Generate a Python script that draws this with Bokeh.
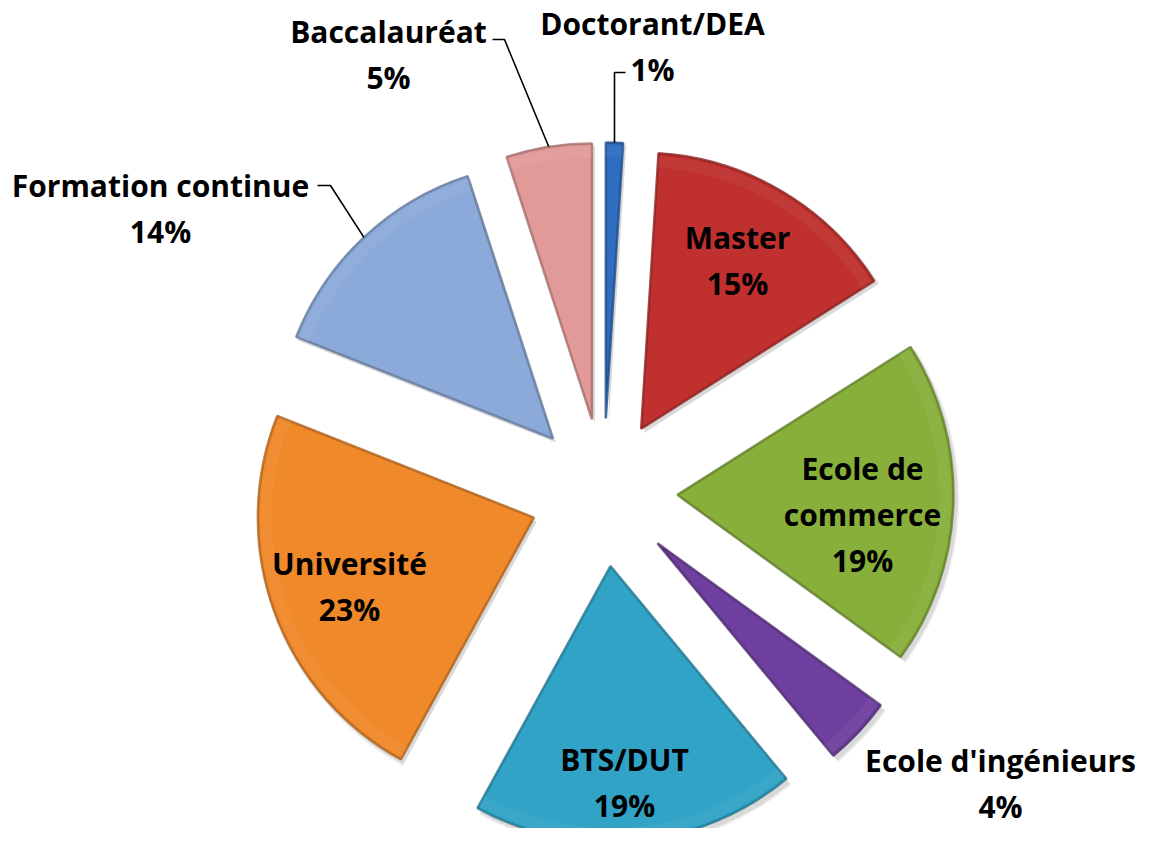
import math
from bokeh.plotting import figure
from bokeh.models import Range1d, ColumnDataSource
from bokeh.core.properties import value
from bokeh.embed import file_html
from bokeh.resources import INLINE

# ---- data ----
categories = ["Doctorant/DEA", "Master", "Ecole de commerce", "Ecole d'ingénieurs",
              "BTS/DUT", "Université", "Formation continue", "Baccalauréat"]
label_names = ["Doctorant/DEA", "Master", "Ecole de\ncommerce", "Ecole d'ingénieurs",
               "BTS/DUT", "Université", "Formation continue", "Baccalauréat"]
values = [1, 15, 19, 4, 19, 23, 14, 5]
colors = ["#2E6DBF", "#C0302E", "#89AF3B", "#6E3F9E",
          "#31A3C6", "#F0892A", "#8BA9D9", "#E29A98"]

# ---- layout (screen-pixel-like data units, y up) ----
W, H = 1139, 828
CX, CY = 611, 844 - 500
R = 276
EXPLODE = 74
LINE_GAP = 46
# label block centres (screen coords) ; outside labels get leader lines
label_pos = [(660, 48), (745, 262), (870, 516), (1008, 785),
             (632, 784), (357, 588), (168, 210), (396, 56)]
leaders = {0: [(633, 80), (622, 80)], 7: [(500, 47), (512, 47)], 6: [(325, 193), (338, 193)]}


def darker(hexc, f):
    h = hexc.lstrip("#")
    r, g, b = (int(h[i:i + 2], 16) for i in (0, 2, 4))
    return "#%02x%02x%02x" % (int(r * f), int(g * f), int(b * f))


def lighter(hexc, f):
    h = hexc.lstrip("#")
    r, g, b = (int(h[i:i + 2], 16) for i in (0, 2, 4))
    return "#%02x%02x%02x" % tuple(int(c + (255 - c) * f) for c in (r, g, b))


total = float(sum(values))
starts, ends, xs, ys, mids = [], [], [], [], []
acc = 0.0
for v in values:
    t1 = acc / total * 360.0
    acc += v
    t2 = acc / total * 360.0
    mid = math.radians((t1 + t2) / 2)
    mids.append(mid)
    xs.append(CX + EXPLODE * math.sin(mid))
    ys.append(CY + EXPLODE * math.cos(mid))
    starts.append(math.radians(90 - t2))
    ends.append(math.radians(90 - t1))

src = ColumnDataSource(dict(x=xs, y=ys, start=starts, end=ends, color=colors,
                            edge=[darker(c, 0.72) for c in colors],
                            light=[lighter(c, 0.25) for c in colors],
                            sx=[x + 3 for x in xs], sy=[y - 4 for y in ys]))

p = figure(width=W, height=H, output_backend="svg", toolbar_location=None,
           x_range=Range1d(8, 8 + W), y_range=Range1d(844 - 8 - H, 844 - 8),
           min_border=0, outline_line_color=None, background_fill_color="white")
p.axis.visible = False
p.grid.visible = False

# soft shadow
for k, a in [(6, 0.06), (4, 0.08), (2, 0.10)]:
    p.wedge(x="sx", y="sy", radius=R + k * 0.5, start_angle="start", end_angle="end",
            source=src, fill_color="#555555", fill_alpha=a, line_color=None)
# slices
p.wedge(x="x", y="y", radius=R, start_angle="start", end_angle="end", source=src,
        fill_color="color", line_color="edge", line_width=2.5, line_alpha=0.8)
# bevel highlight along the outer rim
p.annular_wedge(x="x", y="y", inner_radius=R - 14, outer_radius=R - 3,
                start_angle="start", end_angle="end", source=src,
                fill_color="light", fill_alpha=0.2, line_color=None)

# leader lines (end on middle of the slice's outer arc)
for i, pts in leaders.items():
    ex = xs[i] + R * math.sin(mids[i])
    ey = ys[i] + R * math.cos(mids[i])
    lx = [q[0] for q in pts] + [ex]
    ly = [844 - q[1] for q in pts] + [ey]
    p.line(lx, ly, line_color="black", line_width=1.6)

# labels
tx, ty, tt = [], [], []
for i, name in enumerate(label_names):
    lines = name.split("\n") + ["%d%%" % values[i]]
    cx, cy = label_pos[i]
    n = len(lines)
    for j, ln in enumerate(lines):
        tx.append(cx)
        ty.append(844 - (cy + 6 + (j - (n - 1) / 2) * LINE_GAP))
        tt.append(ln)
p.text(x=tx, y=ty, text=tt, text_font=value("Open Sans"), text_font_style="bold",
       text_font_size="30px", text_align="center", text_baseline="middle",
       text_color="black")

open("out.html", "w").write(file_html(p, INLINE))
